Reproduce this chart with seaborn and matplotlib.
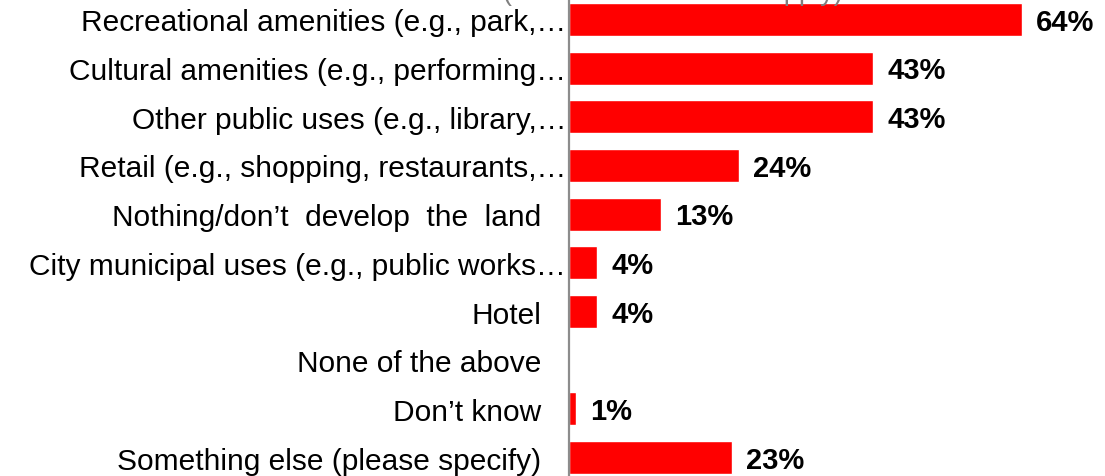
import matplotlib
matplotlib.use("Agg")
import matplotlib.pyplot as plt
import seaborn as sns
import pandas as pd

categories = [
    "Recreational amenities (e.g., park,\u2026",
    "Cultural amenities (e.g., performing\u2026",
    "Other public uses (e.g., library,\u2026",
    "Retail (e.g., shopping, restaurants,\u2026",
    "Nothing/don\u2019t  develop  the  land",
    "City municipal uses (e.g., public works\u2026",
    "Hotel",
    "None of the above",
    "Don\u2019t know",
    "Something else (please specify)",
]
values = [64, 43, 43, 24, 13, 4, 4, 0, 1, 23]
value_labels = ["64%", "43%", "43%", "24%", "13%", "4%", "4%", "", "1%", "23%"]
truncated = [True, True, True, True, False, True, False, False, False, False]

sns.set_theme(style="white")
plt.rcParams["font.family"] = ["Liberation Sans", "DejaVu Sans"]

df = pd.DataFrame({"category": categories, "value": values})

fig = plt.figure(figsize=(11.05, 4.77), dpi=100)
ax = fig.add_axes([569 / 1105, 0, 531 / 1105, 1])

sns.barplot(data=df, y="category", x="value", orient="h", color="#FF0000",
            saturation=1, width=0.68, ax=ax, zorder=2)

ax.set_xlim(0, 75)
ax.set_ylim(9.38, -0.421)
ax.set_xlabel("")
ax.set_ylabel("")
ax.set_xticks([])

for s in ["top", "right", "bottom"]:
    ax.spines[s].set_visible(False)
ax.spines["left"].set_color("#8C8C8C")
ax.spines["left"].set_linewidth(1.6)
ax.spines["left"].set_zorder(3)

ax.tick_params(axis="y", length=0, labelsize=21.5, labelcolor="black")
for tick, tr in zip(ax.yaxis.get_major_ticks(), truncated):
    tick.set_pad(2 if tr else 20)

anns = ax.bar_label(ax.containers[0], labels=value_labels, padding=10,
                    fontsize=21, fontweight="bold", color="black")
for a in anns:
    x_off, y_off = a.xyann
    a.xyann = (x_off, y_off - 1.5)

# partially visible (cut off) question text at the top
fig.text(673 / 1105, 1.0, "(Please select all that apply)", ha="center",
         va="baseline", fontsize=19.5, color="#7F7F7F", zorder=0)

fig.savefig("out.png", dpi=100)
